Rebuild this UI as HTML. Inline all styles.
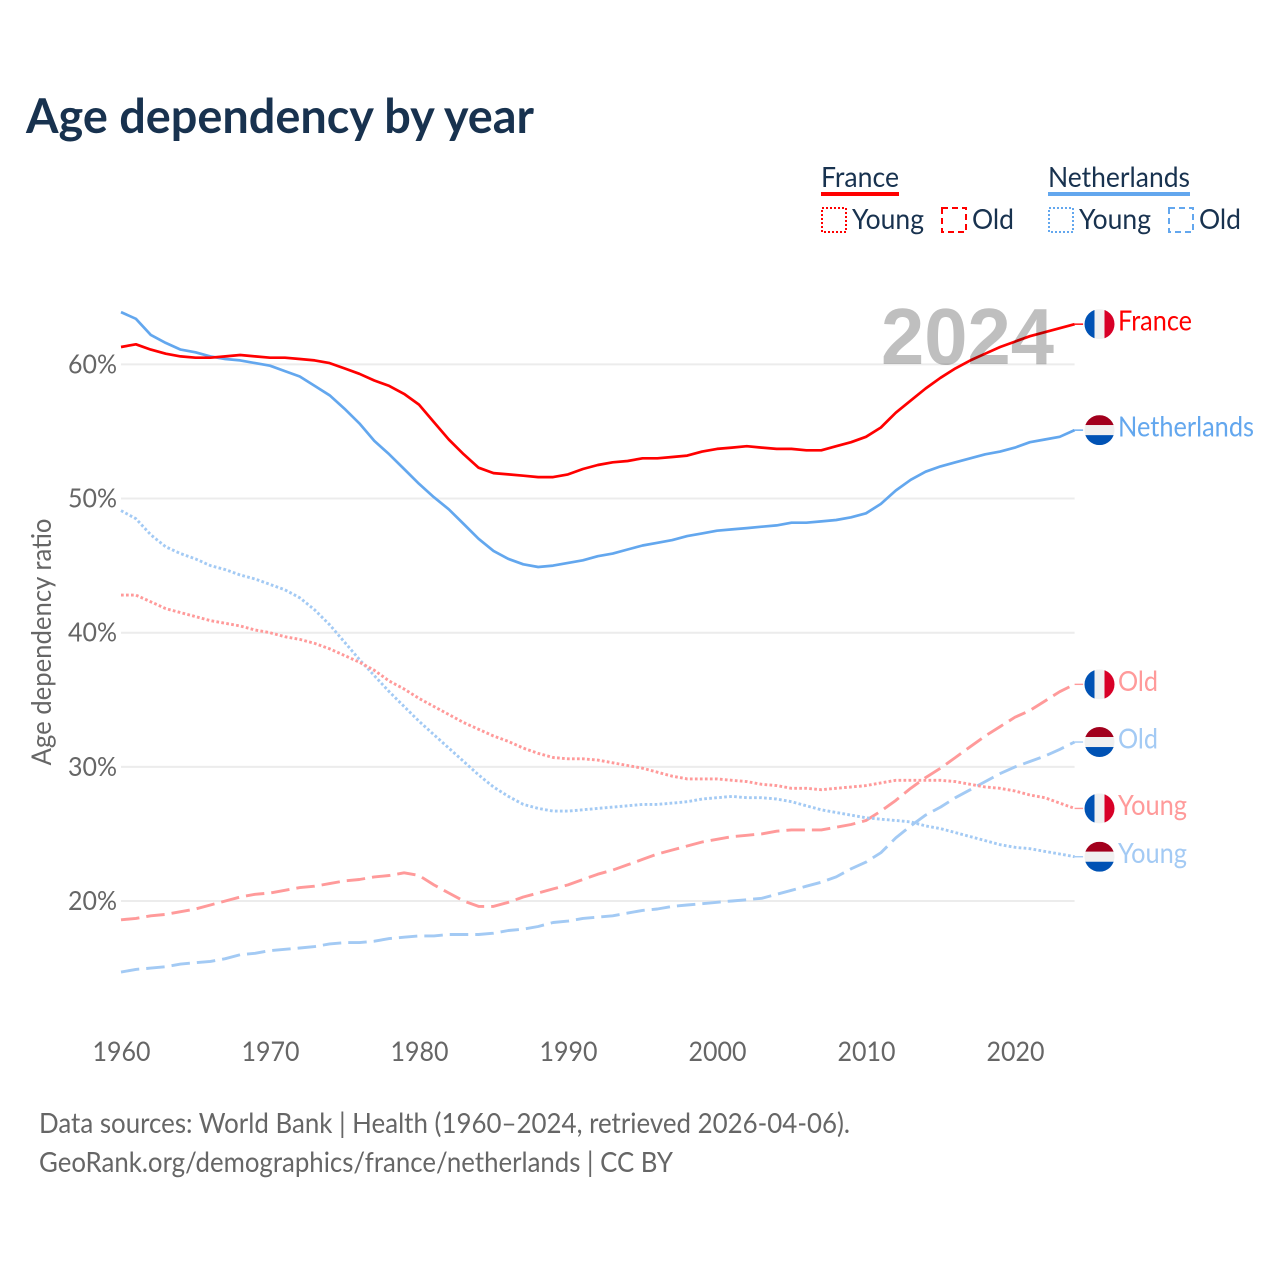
<!DOCTYPE html>
<html lang="en">
<head>
<meta charset="utf-8">
<title>Age dependency by year</title>
<style>
html,body{margin:0;padding:0;background:#fff;}
svg{display:block;}
text{font-family:"Lato","Liberation Sans",sans-serif;}
</style>
</head>
<body>
<svg id="chart" xmlns="http://www.w3.org/2000/svg" width="1280" height="1280" viewBox="0 0 1280 1280">
  <rect x="0" y="0" width="1280" height="1280" fill="#fff"/>
  <text x="26" y="133" font-size="48" font-weight="700" fill="#18324f" textLength="508" lengthAdjust="spacingAndGlyphs">Age dependency by year</text>

  <g>
    <g>
      <text x="821" y="187" font-size="28" fill="#18324f" textLength="78" lengthAdjust="spacingAndGlyphs">France</text>
      <rect x="821" y="192" width="78" height="4" fill="#ff0000"/>
      <rect x="822" y="208" width="24" height="24" fill="none" stroke="#ff0000" stroke-width="2" stroke-dasharray="2 2"/>
      <text x="852" y="229" font-size="28" fill="#18324f" textLength="72" lengthAdjust="spacingAndGlyphs">Young</text>
      <rect x="942" y="208" width="24" height="24" fill="none" stroke="#ff0000" stroke-width="2" stroke-dasharray="6 4"/>
      <text x="972" y="229" font-size="28" fill="#18324f" textLength="42" lengthAdjust="spacingAndGlyphs">Old</text>
    </g>
    <g>
      <text x="1048" y="187" font-size="28" fill="#18324f" textLength="142" lengthAdjust="spacingAndGlyphs">Netherlands</text>
      <rect x="1048" y="192" width="142" height="4" fill="#63a7ee"/>
      <rect x="1049" y="208" width="24" height="24" fill="none" stroke="#63a7ee" stroke-width="2" stroke-dasharray="2 2"/>
      <text x="1079" y="229" font-size="28" fill="#18324f" textLength="72" lengthAdjust="spacingAndGlyphs">Young</text>
      <rect x="1169" y="208" width="24" height="24" fill="none" stroke="#63a7ee" stroke-width="2" stroke-dasharray="6 4"/>
      <text x="1199" y="229" font-size="28" fill="#18324f" textLength="42" lengthAdjust="spacingAndGlyphs">Old</text>
    </g>
  </g>

  <g id="grid"></g>
  <g id="yticks"></g>
  <g id="xticks"></g>
  <text transform="translate(51,642) rotate(-90)" text-anchor="middle" font-size="27" fill="#666666" textLength="247" lengthAdjust="spacingAndGlyphs">Age dependency ratio</text>
  <g id="series"></g>
  <text x="881" y="364" font-size="80" font-weight="700" fill="#bfbfbf" textLength="173" lengthAdjust="spacingAndGlyphs" style="font-family:'Liberation Sans',sans-serif;mix-blend-mode:multiply">2024</text>
  <g id="labels"></g>

  <text x="39" y="1133" font-size="28" fill="#666666" textLength="811" lengthAdjust="spacingAndGlyphs">Data sources: World Bank | Health (1960–2024, retrieved 2026-04-06).</text>
  <text x="39" y="1172" font-size="28" fill="#666666" textLength="634" lengthAdjust="spacingAndGlyphs">GeoRank.org/demographics/france/netherlands | CC BY</text>
</svg>
<script>
const startYear = 1960;
const xTickLabels = [1960, 1970, 1980, 1990, 2000, 2010, 2020];
const yTickLabels = [20, 30, 40, 50, 60];

const franceTotal = [61.3,61.5,61.1,60.8,60.6,60.5,60.5,60.6,60.7,60.6,60.5,60.5,60.4,60.3,60.1,59.7,59.3,58.8,58.4,57.8,57.0,55.7,54.4,53.3,52.3,51.9,51.8,51.7,51.6,51.6,51.8,52.2,52.5,52.7,52.8,53.0,53.0,53.1,53.2,53.5,53.7,53.8,53.9,53.8,53.7,53.7,53.6,53.6,53.9,54.2,54.6,55.3,56.4,57.3,58.2,59.0,59.7,60.3,60.8,61.3,61.7,62.1,62.4,62.7,63.0];
const netherlandsTotal = [63.9,63.4,62.2,61.6,61.1,60.9,60.6,60.4,60.3,60.1,59.9,59.5,59.1,58.4,57.7,56.7,55.6,54.3,53.3,52.2,51.1,50.1,49.2,48.1,47.0,46.1,45.5,45.1,44.9,45.0,45.2,45.4,45.7,45.9,46.2,46.5,46.7,46.9,47.2,47.4,47.6,47.7,47.8,47.9,48.0,48.2,48.2,48.3,48.4,48.6,48.9,49.6,50.6,51.4,52.0,52.4,52.7,53.0,53.3,53.5,53.8,54.2,54.4,54.6,55.1];
const franceYoung = [42.8,42.8,42.3,41.8,41.5,41.2,40.9,40.7,40.5,40.2,40.0,39.7,39.5,39.2,38.8,38.3,37.8,37.2,36.4,35.8,35.1,34.5,33.9,33.3,32.8,32.3,31.9,31.4,31.0,30.7,30.6,30.6,30.5,30.3,30.1,29.9,29.6,29.3,29.1,29.1,29.1,29.0,28.9,28.7,28.6,28.4,28.4,28.3,28.4,28.5,28.6,28.8,29.0,29.0,29.0,29.0,28.9,28.7,28.5,28.4,28.2,27.9,27.7,27.3,26.9];
const netherlandsYoung = [49.1,48.5,47.3,46.4,45.9,45.5,45.0,44.7,44.3,44.0,43.6,43.2,42.6,41.7,40.6,39.3,38.0,36.8,35.6,34.5,33.4,32.4,31.4,30.4,29.4,28.5,27.8,27.2,26.9,26.7,26.7,26.8,26.9,27.0,27.1,27.2,27.2,27.3,27.4,27.6,27.7,27.8,27.7,27.7,27.6,27.4,27.1,26.8,26.6,26.4,26.2,26.1,26.0,25.9,25.6,25.4,25.1,24.8,24.5,24.2,24.0,23.9,23.7,23.5,23.3];
const franceOld = [18.6,18.7,18.9,19.0,19.2,19.4,19.7,20.0,20.3,20.5,20.6,20.8,21.0,21.1,21.3,21.5,21.6,21.8,21.9,22.1,21.9,21.2,20.6,20.0,19.6,19.6,19.9,20.3,20.6,20.9,21.2,21.6,22.0,22.3,22.7,23.1,23.5,23.8,24.1,24.4,24.6,24.8,24.9,25.0,25.2,25.3,25.3,25.3,25.5,25.7,26.0,26.7,27.5,28.4,29.2,29.9,30.7,31.5,32.3,33.0,33.7,34.2,34.9,35.6,36.15];
const netherlandsOld = [14.7,14.9,15.0,15.1,15.3,15.4,15.5,15.7,16.0,16.1,16.3,16.4,16.5,16.6,16.8,16.9,16.9,17.0,17.2,17.3,17.4,17.4,17.5,17.5,17.5,17.6,17.8,17.9,18.1,18.4,18.5,18.7,18.8,18.9,19.1,19.3,19.4,19.6,19.7,19.8,19.9,20.0,20.1,20.2,20.5,20.8,21.1,21.4,21.8,22.4,22.9,23.6,24.7,25.6,26.4,27.0,27.7,28.3,28.9,29.5,30.0,30.4,30.8,31.3,31.85];

const SVG_NS = 'http://www.w3.org/2000/svg';
function xScale(year){ return 121 + (year - startYear) * 14.9; }
function yScale(value){ return 901 - (value - 20) * 13.415; }
function make(tag, parent){
  const el = document.createElementNS(SVG_NS, tag);
  parent.appendChild(el);
  return el;
}
function setAll(el, props){
  for (const k in props) el.setAttribute(k, props[k]);
}

const gridGroup = document.getElementById('grid');
const yTickGroup = document.getElementById('yticks');
const xTickGroup = document.getElementById('xticks');
const seriesGroup = document.getElementById('series');
const labelGroup = document.getElementById('labels');

yTickLabels.forEach(function(v){
  const line = make('line', gridGroup);
  
  
  setAll(line, {x1: xScale(startYear), x2: xScale(2024), y1: yScale(v), y2: yScale(v), stroke: '#ececec', 'stroke-width': 2});
  const t = make('text', yTickGroup);
  
  
  setAll(t, {x: 117, y: yScale(v) + 9, 'text-anchor': 'end', 'font-size': 26, fill: '#666666', textLength: 49, lengthAdjust: 'spacingAndGlyphs'});
  t.textContent = v + '%';
});

xTickLabels.forEach(function(y){
  const t = make('text', xTickGroup);
  
  
  setAll(t, {x: xScale(y) + 0.5, y: 1061, 'text-anchor': 'middle', 'font-size': 27, fill: '#666666', textLength: 58, lengthAdjust: 'spacingAndGlyphs'});
  t.textContent = y;
});

function drawSeries(values, name, color, dash, width){
  let d = '';
  values.forEach(function(v, i){
    d += (i ? 'L' : 'M') + xScale(startYear + i).toFixed(1) + ' ' + yScale(v).toFixed(1);
  });
  const p = make('path', seriesGroup);
  
  
  setAll(p, {d: d, fill: 'none', stroke: color, 'stroke-width': width, 'stroke-linejoin': 'round'});
  if (dash) p.setAttribute('stroke-dasharray', dash);
  const lastY = yScale(values[values.length - 1]);
  const link = make('line', seriesGroup);
  
  
  setAll(link, {x1: xScale(2024), x2: xScale(2024) + 8.5, y1: lastY, y2: lastY, stroke: color, 'stroke-width': 1.4});
}

drawSeries(netherlandsOld, 'line-netherlands-old', '#a3caf4', '18.5 7', 2.9);
drawSeries(franceOld, 'line-france-old', '#ff9a9a', '18.5 7', 2.9);
drawSeries(netherlandsYoung, 'line-netherlands-young', '#a3caf4', '2.7 2.3', 2.9);
drawSeries(franceYoung, 'line-france-young', '#ff9a9a', '2.7 2.3', 2.9);
drawSeries(netherlandsTotal, 'line-netherlands-total', '#63a7ee', null, 2.7);
drawSeries(franceTotal, 'line-france-total', '#ff0000', null, 2.7);

let clipCount = 0;
function drawFlag(country, cy, name){
  const cx = 1099.5, r = 15;
  const id = 'flag-clip-' + (clipCount++);
  const g = make('g', labelGroup);
  
  
  const cp = make('clipPath', g);
  cp.setAttribute('id', id);
  const c = make('circle', cp);
  setAll(c, {cx: cx, cy: cy, r: r});
  const fr = [['#0052b4', 0, 10], ['#f0f0f0', 10, 10], ['#d80027', 20, 10]];
  const nl = [['#a2001d', 0, 10], ['#f0f0f0', 10, 10], ['#0052b4', 20, 10]];
  (country === 'fr' ? fr : nl).forEach(function(s){
    const rect = make('rect', g);
    if (country === 'fr') {
      setAll(rect, {x: cx - r + s[1], y: cy - r, width: s[2], height: 2 * r, fill: s[0], 'clip-path': 'url(#' + id + ')'});
    } else {
      setAll(rect, {x: cx - r, y: cy - r + s[1], width: 2 * r, height: s[2], fill: s[0], 'clip-path': 'url(#' + id + ')'});
    }
  });
}

function drawLabel(values, country, text, color, width, name){
  const cy = yScale(values[values.length - 1]);
  drawFlag(country, cy, name + '-flag');
  const t = make('text', labelGroup);
  
  
  setAll(t, {x: 1118, y: cy + 6.5, 'font-size': 28, fill: color, textLength: width, lengthAdjust: 'spacingAndGlyphs'});
  t.textContent = text;
}

drawLabel(franceTotal, 'fr', 'France', '#ff0000', 74, 'label-france');
drawLabel(netherlandsTotal, 'nl', 'Netherlands', '#63a7ee', 136, 'label-netherlands');
drawLabel(franceOld, 'fr', 'Old', '#ff9a9a', 40, 'label-france-old');
drawLabel(netherlandsOld, 'nl', 'Old', '#a3caf4', 40, 'label-netherlands-old');
drawLabel(franceYoung, 'fr', 'Young', '#ff9a9a', 69, 'label-france-young');
drawLabel(netherlandsYoung, 'nl', 'Young', '#a3caf4', 69, 'label-netherlands-young');
</script>
</body>
</html>
